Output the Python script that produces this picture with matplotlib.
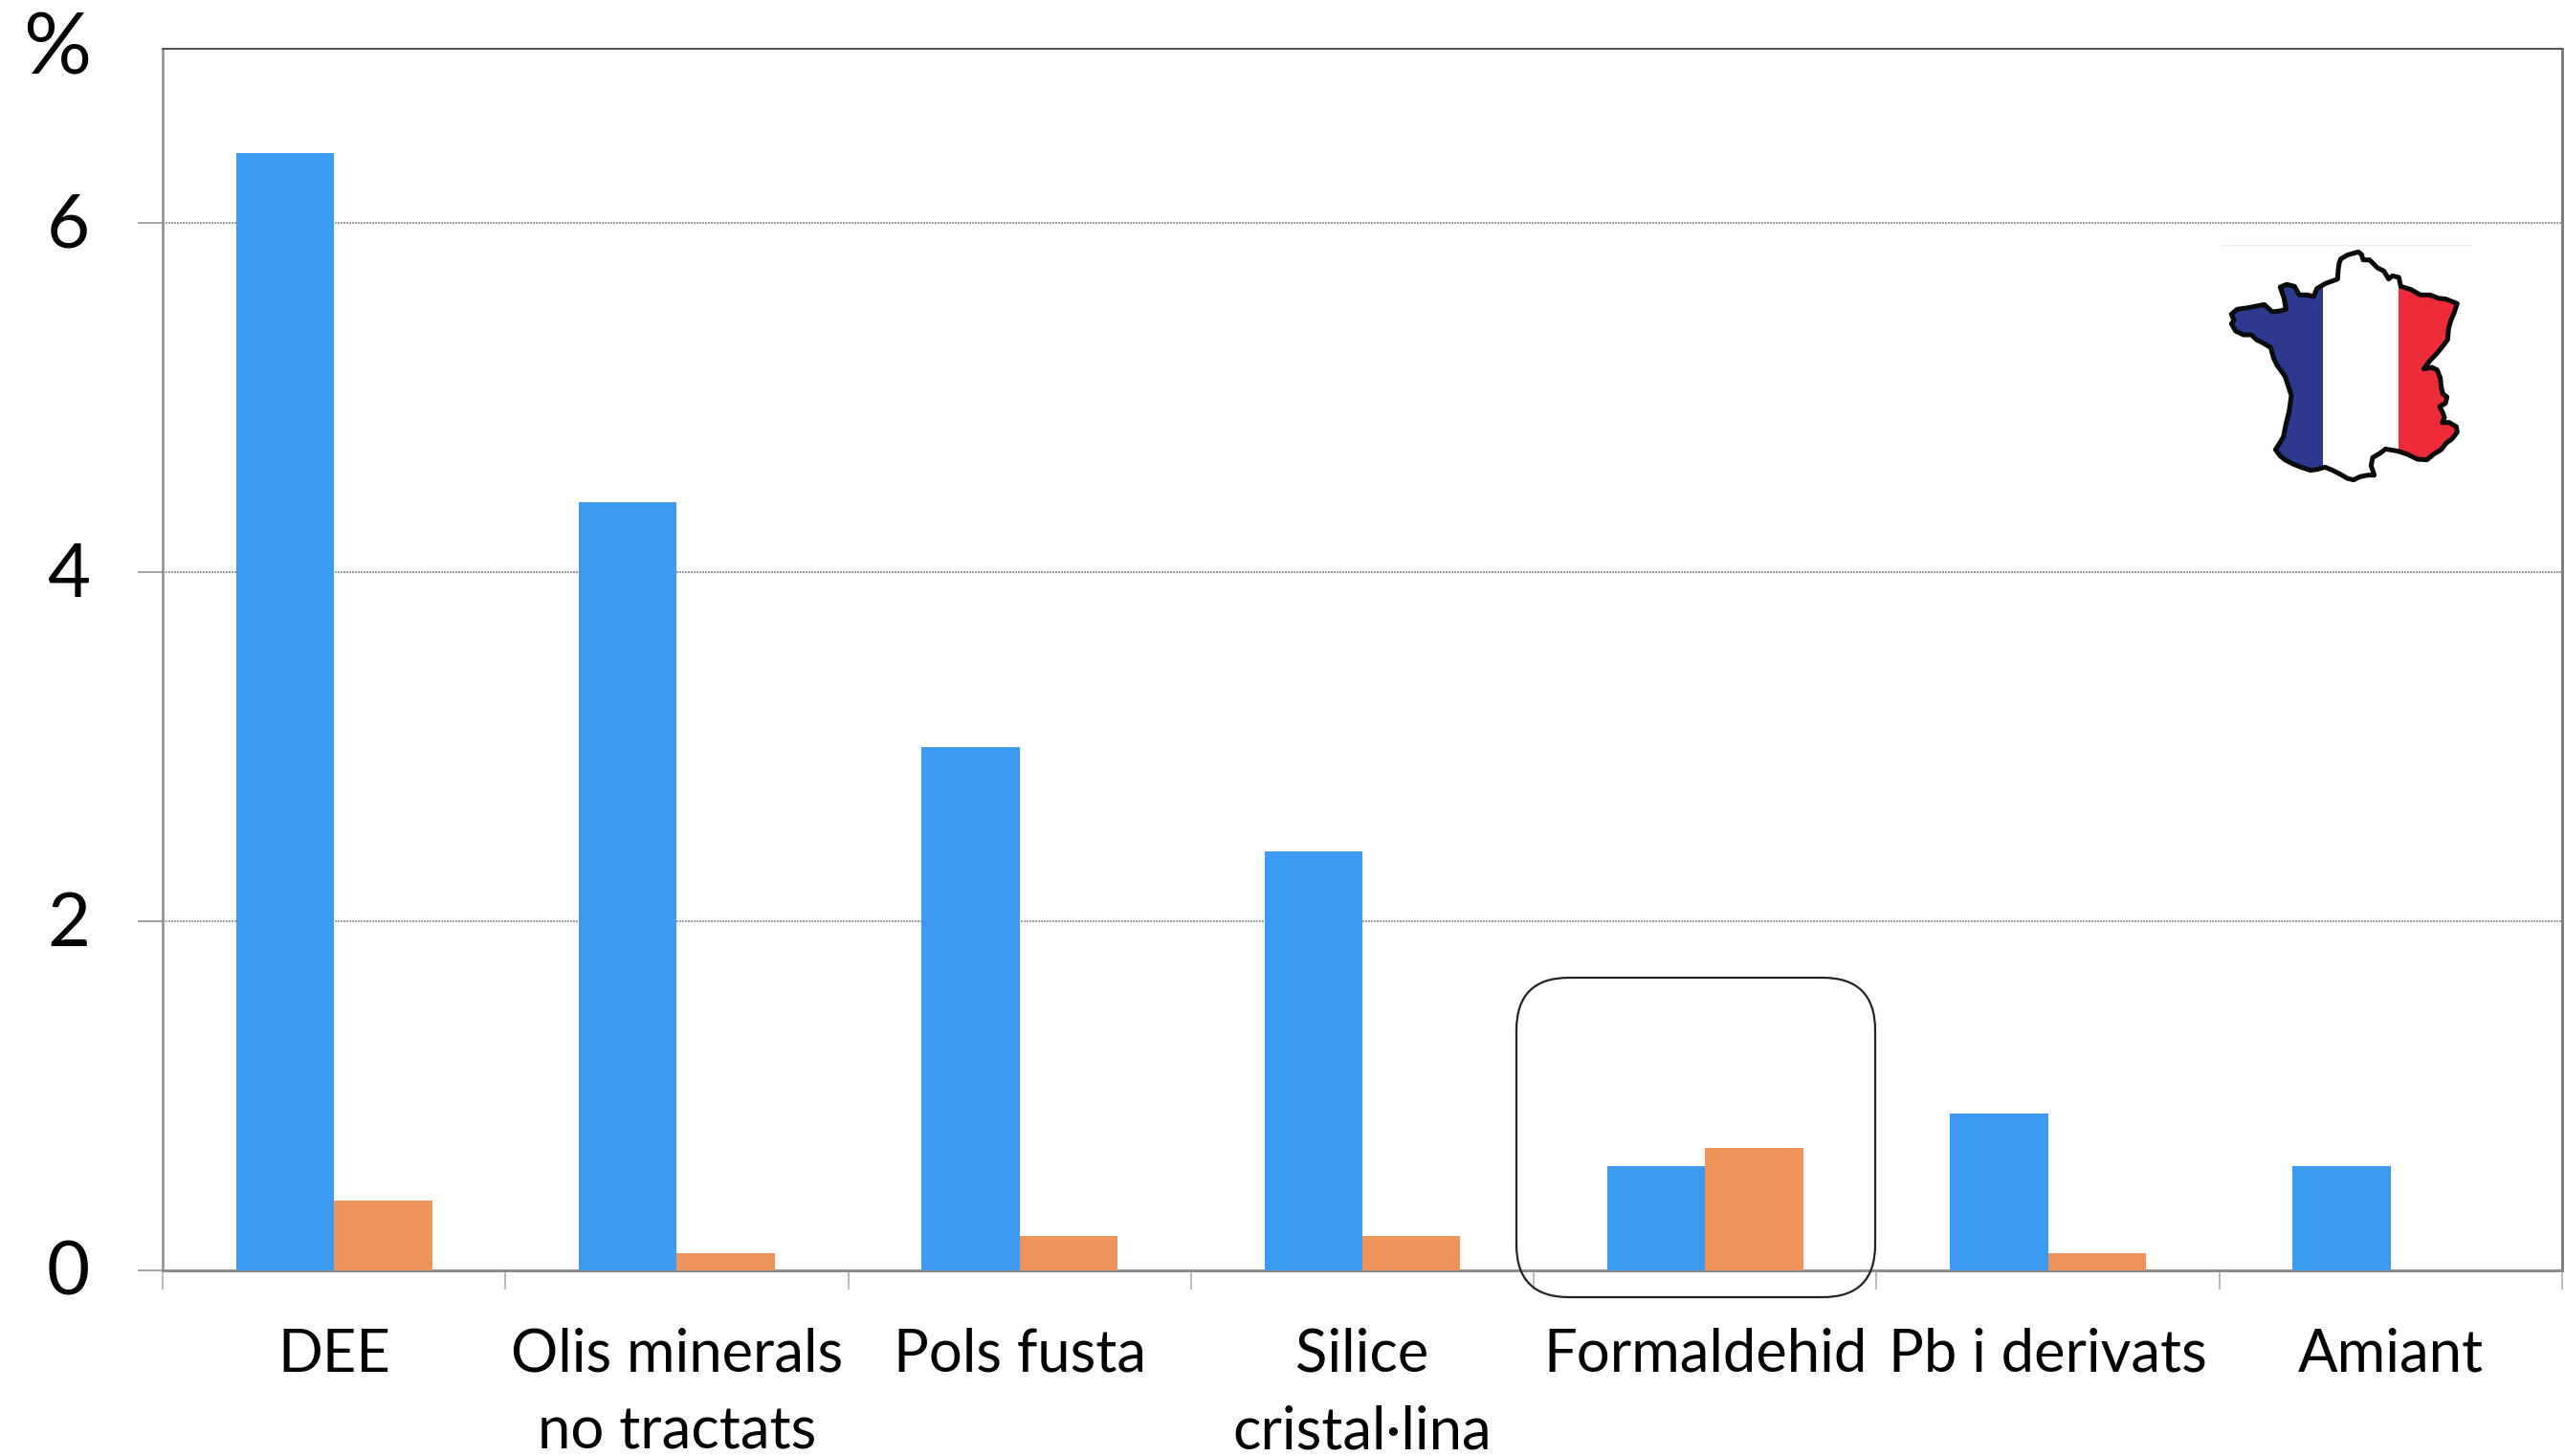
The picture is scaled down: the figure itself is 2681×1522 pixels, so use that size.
import numpy as np
import matplotlib
matplotlib.use('Agg')
import matplotlib.pyplot as plt
from matplotlib.patches import FancyBboxPatch, Polygon, Rectangle
from matplotlib.transforms import ScaledTranslation

W, H = 2681, 1522

categories = ['DEE', 'Olis minerals\nno tractats', 'Pols fusta', 'Silice\ncristal·lina',
              'Formaldehid', 'Pb i derivats', 'Amiant']
blue_values = [6.4, 4.4, 3.0, 2.4, 0.6, 0.9, 0.6]
orange_values = [0.4, 0.1, 0.2, 0.2, 0.7, 0.1, 0.0]
y_ticks = [0, 2, 4, 6]

# outline of the map, read in pixels from the zoomed crop
map_outline = [(465, 105), (470, 92), (490, 80), (525, 70), (535, 78), (540, 95), (560, 95), (585, 120), (605, 130),
               (620, 155), (632, 145), (652, 150), (658, 178), (690, 188), (720, 205), (750, 205), (775, 215),
               (800, 218), (835, 232), (825, 262), (815, 285), (808, 310), (805, 345), (790, 365), (770, 390),
               (750, 410), (730, 437), (755, 432), (772, 440), (782, 465), (785, 495), (790, 515), (803, 525),
               (798, 545), (780, 555), (790, 575), (795, 590), (788, 605), (810, 605), (832, 618), (835, 635),
               (820, 655), (800, 670), (785, 690), (760, 705), (740, 722), (710, 720), (680, 705), (650, 695),
               (610, 688), (595, 700), (570, 715), (565, 740), (575, 770), (555, 770), (530, 775), (510, 785),
               (490, 780), (470, 768), (445, 755), (420, 745), (395, 752), (375, 755), (345, 745), (320, 735),
               (295, 722), (280, 710), (265, 690), (278, 670), (290, 650), (298, 610), (308, 570), (315, 520),
               (305, 490), (295, 460), (270, 425), (260, 405), (250, 370), (225, 355), (205, 345), (190, 330),
               (165, 330), (140, 318), (127, 295), (135, 285), (127, 265), (145, 250), (180, 245), (230, 235),
               (255, 258), (280, 255), (298, 250), (292, 215), (280, 180), (300, 172), (325, 178), (340, 205),
               (365, 205), (385, 210), (395, 185), (420, 170), (460, 155), (462, 125)]


def px(v):
    return v * 72 / 100


plt.rcParams['font.family'] = ['Lato', 'DejaVu Sans']

fig = plt.figure(figsize=(W / 100, H / 100), dpi=100)
ax = fig.add_axes([170 / W, (H - 1328) / H, (2678 - 170) / W, (1328 - 51) / H])

x = np.arange(len(categories))
bar_w = 0.286
ax.bar(x - bar_w / 2, blue_values, bar_w, color='#3c9af2', zorder=3)
ax.bar(x + bar_w / 2, orange_values, bar_w, color='#ee935c', zorder=3)

ax.set_xlim(-0.5, len(categories) - 0.5)
ax.set_ylim(0, 7)
ax.set_yticks(y_ticks)
ax.yaxis.grid(True, color='#a0a0a0', lw=px(2), ls=(0, (1, 0.5)), zorder=1)

ax.set_xticks(x)
ax.set_xticklabels(categories, fontsize=44.3, linespacing=1.52)
ax.set_xticks(np.arange(len(categories) + 1) - 0.5, minor=True)
ax.tick_params(axis='x', which='major', length=0, pad=px(60))
ax.tick_params(axis='x', which='minor', length=px(20), width=px(1.5), color='#a6a6a6')
ax.tick_params(axis='y', length=px(26), width=px(2), color='#a6a6a6', pad=px(50), labelsize=56)

# the digits sit a little higher than matplotlib centres them
up = ScaledTranslation(0, px(3) / 72, fig.dpi_scale_trans)
for label in ax.get_yticklabels():
    label.set_transform(label.get_transform() + up)

ax.spines['left'].set(color='#8c8c8c', lw=px(2.5))
ax.spines['right'].set(color='#808080', lw=px(3))
ax.spines['bottom'].set(color='#8c8c8c', lw=px(3))
ax.spines['top'].set(color='#555555', lw=px(2))

fig.text(60 / W, 1 - 53 / H, '%', fontsize=64, ha='center', va='center')

# rounded box round the Formaldehid bars, in figure pixels
box = FancyBboxPatch((1585 + 55, H - 1356 + 55), 375 - 110, 334 - 110, boxstyle='round,pad=55,rounding_size=55',
                     transform=None, fc='none', ec='#222222', lw=px(2.2), zorder=6, clip_on=False)
fig.add_artist(box)

# small map with the flag colours
flag = fig.add_axes([2290 / W, (H - 530) / H, 320 / W, 290 / H])
flag.set_xlim(0, 960)
flag.set_ylim(870, 0)
flag.axis('off')
outline = np.array(map_outline)
flag.plot([95, 880], [48, 48], color='#eeeeee', lw=1)
blue_part = Rectangle((0, 0), 415, 870, fc='#2b3a8f', ec='none')
white_part = Rectangle((415, 0), 235, 870, fc='white', ec='none')
red_part = Rectangle((650, 0), 310, 870, fc='#ee2b3b', ec='none')
shape = Polygon(outline, closed=True, fc='none', ec='none')
flag.add_patch(shape)
for part in (blue_part, white_part, red_part):
    flag.add_patch(part)
    part.set_clip_path(shape)
flag.add_patch(Polygon(outline, closed=True, fc='none', ec='#0a0a0a', lw=px(5), joinstyle='round'))

fig.savefig('out.png', dpi=100)
